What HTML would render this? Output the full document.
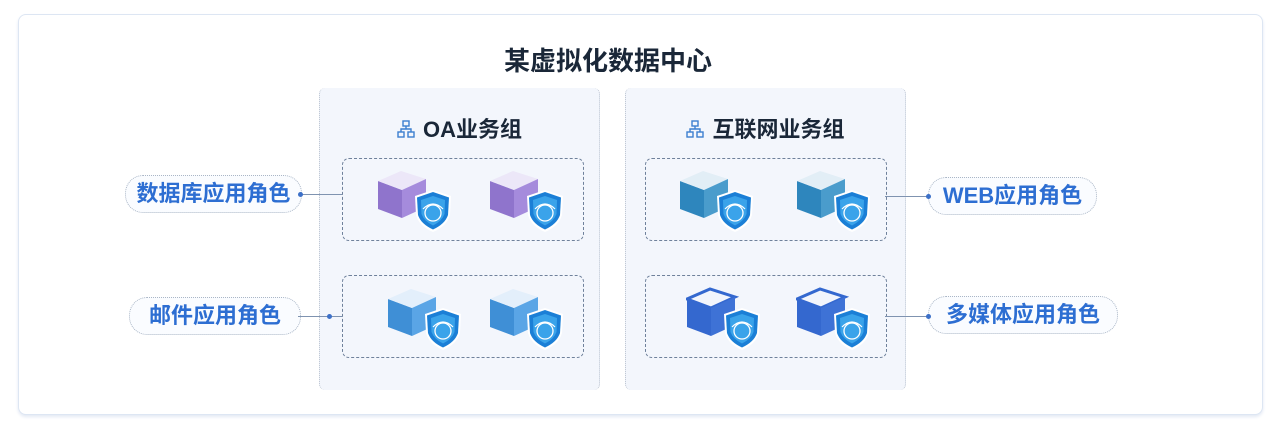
<!DOCTYPE html>
<html><head><meta charset="utf-8"><style>
body{margin:0;width:1280px;height:437px;background:#fff;font-family:"Liberation Sans","Noto Sans CJK SC",sans-serif;position:relative;overflow:hidden}
.card{position:absolute;left:18px;top:14px;width:1243px;height:399px;border:1px solid #dde6f3;border-radius:8px;box-shadow:0 2px 3px #e3e9f4;background:#fff}
.title{position:absolute;left:0;width:1178px;top:26px;text-align:center;font-size:26px;font-weight:bold;color:#1a2738}
.panel{position:absolute;top:88px;width:279px;height:302px;background:#f3f6fc;border-left:1px dotted #b9c2cf;border-right:1px dotted #b9c2cf;border-radius:6px}
.ph{position:absolute;top:24px;left:0;width:100%;text-align:center;font-size:22px;font-weight:bold;color:#1a2738}
.ph svg{vertical-align:-1px;margin-right:8px}
.dash{position:absolute;width:240px;height:81px;border:1.5px dashed #6f819b;border-radius:7px}
.pill{position:absolute;height:36px;border:1px dotted #aab6c6;border-radius:18px;background:#fafcff;font-size:22px;font-weight:bold;color:#2d6ed2;line-height:36px;text-align:center}
.line{position:absolute;height:1px;background:#7f93b0}
.dot{position:absolute;width:5px;height:5px;border-radius:50%;background:#3c70c8}
svg.ic{position:absolute;width:76px;height:64px}
</style></head><body>
<svg width="0" height="0" style="position:absolute">
<defs>
<g id="sh">
<path d="M56 21 L74 27 L73 46 Q70 57 56 63 Q42 57 39 46 L38 27 Z" fill="#fff"/>
<path d="M56 23 L72 28.5 L71 46 Q68 55 56 60.5 Q44 55 41 46 L40 28.5 Z" fill="#1b7fd6"/>
<path d="M56 27 L68 31 L67.5 45 Q65 52 56 56.5 Q47 52 44.5 45 L44 31 Z" fill="#3aa3ea"/>
<circle cx="56" cy="44" r="8" fill="none" stroke="#fff" stroke-width="1.3"/>
<path d="M46 40 Q56 30 66 40" fill="none" stroke="#fff" stroke-width="1.2"/>
</g>
<g id="net" fill="none" stroke="#3b7fd0" stroke-width="1.4"><rect x="6" y="1" width="6" height="5"/><rect x="1" y="12" width="6" height="5"/><rect x="11" y="12" width="6" height="5"/><path d="M9 6 V9 M4 12 V9 H14 V12"/></g>
</defs></svg>
<div class="card">
<div class="title">某虚拟化数据中心</div>
</div>
<div class="panel" style="left:319px"><div class="ph"><svg width="18" height="18"><use href="#net"/></svg>OA业务组</div></div>
<div class="panel" style="left:625px"><div class="ph"><svg width="18" height="18"><use href="#net"/></svg>互联网业务组</div></div>
<div class="dash" style="left:342px;top:158px"></div>
<div class="dash" style="left:342px;top:275px"></div>
<div class="dash" style="left:645px;top:158px"></div>
<div class="dash" style="left:645px;top:275px"></div>

<div class="pill" style="left:125px;top:175px;width:175px">数据库应用角色</div>
<div class="line" style="left:300px;top:194px;width:42px"></div><div class="dot" style="left:298px;top:192px"></div>
<div class="pill" style="left:129px;top:297px;width:170px">邮件应用角色</div>
<div class="line" style="left:298px;top:316px;width:44px"></div><div class="dot" style="left:327px;top:314px"></div>
<div class="pill" style="left:928px;top:177px;width:167px">WEB应用角色</div>
<div class="line" style="left:885px;top:196px;width:43px"></div><div class="dot" style="left:926px;top:194px"></div>
<div class="pill" style="left:928px;top:296px;width:188px">多媒体应用角色</div>
<div class="line" style="left:885px;top:316px;width:43px"></div><div class="dot" style="left:926px;top:314px"></div>

<svg class="ic" style="left:377px;top:169px" viewBox="0 0 76 64"><path d="M1 12 L25 21 L25 49 L1 40Z" fill="#8f74cc"/><path d="M1 12 L24 2 L49 10 L25 21Z" fill="#ece7f8"/><path d="M25 21 L49 10 L49 38 L25 49Z" fill="#a58bdc"/><use href="#sh"/></svg>
<svg class="ic" style="left:489px;top:169px" viewBox="0 0 76 64"><path d="M1 12 L25 21 L25 49 L1 40Z" fill="#8f74cc"/><path d="M1 12 L24 2 L49 10 L25 21Z" fill="#ece7f8"/><path d="M25 21 L49 10 L49 38 L25 49Z" fill="#a58bdc"/><use href="#sh"/></svg>
<svg class="ic" style="left:387px;top:287px" viewBox="0 0 76 64"><path d="M1 12 L25 21 L25 49 L1 40Z" fill="#3f8fd6"/><path d="M1 12 L24 2 L49 10 L25 21Z" fill="#e3effb"/><path d="M25 21 L49 10 L49 38 L25 49Z" fill="#5aa5e6"/><use href="#sh"/></svg>
<svg class="ic" style="left:489px;top:287px" viewBox="0 0 76 64"><path d="M1 12 L25 21 L25 49 L1 40Z" fill="#3f8fd6"/><path d="M1 12 L24 2 L49 10 L25 21Z" fill="#e3effb"/><path d="M25 21 L49 10 L49 38 L25 49Z" fill="#5aa5e6"/><use href="#sh"/></svg>
<svg class="ic" style="left:679px;top:169px" viewBox="0 0 76 64"><path d="M1 12 L25 21 L25 49 L1 40Z" fill="#2e86bd"/><path d="M1 12 L24 2 L49 10 L25 21Z" fill="#e2eef6"/><path d="M25 21 L49 10 L49 38 L25 49Z" fill="#4a9ccc"/><use href="#sh"/></svg>
<svg class="ic" style="left:796px;top:169px" viewBox="0 0 76 64"><path d="M1 12 L25 21 L25 49 L1 40Z" fill="#2e86bd"/><path d="M1 12 L24 2 L49 10 L25 21Z" fill="#e2eef6"/><path d="M25 21 L49 10 L49 38 L25 49Z" fill="#4a9ccc"/><use href="#sh"/></svg>
<svg class="ic" style="left:686px;top:287px" viewBox="0 0 76 64"><path d="M1 12 L25 21 L25 49 L1 40Z" fill="#3468cf"/><path d="M1 12 L24 2 L49 10 L25 21Z" fill="#f2f5fc" stroke="#3468cf" stroke-width="3"/><path d="M25 21 L49 10 L49 38 L25 49Z" fill="#3e72d6"/><use href="#sh"/></svg>
<svg class="ic" style="left:796px;top:287px" viewBox="0 0 76 64"><path d="M1 12 L25 21 L25 49 L1 40Z" fill="#3468cf"/><path d="M1 12 L24 2 L49 10 L25 21Z" fill="#f2f5fc" stroke="#3468cf" stroke-width="3"/><path d="M25 21 L49 10 L49 38 L25 49Z" fill="#3e72d6"/><use href="#sh"/></svg>
</body></html>
